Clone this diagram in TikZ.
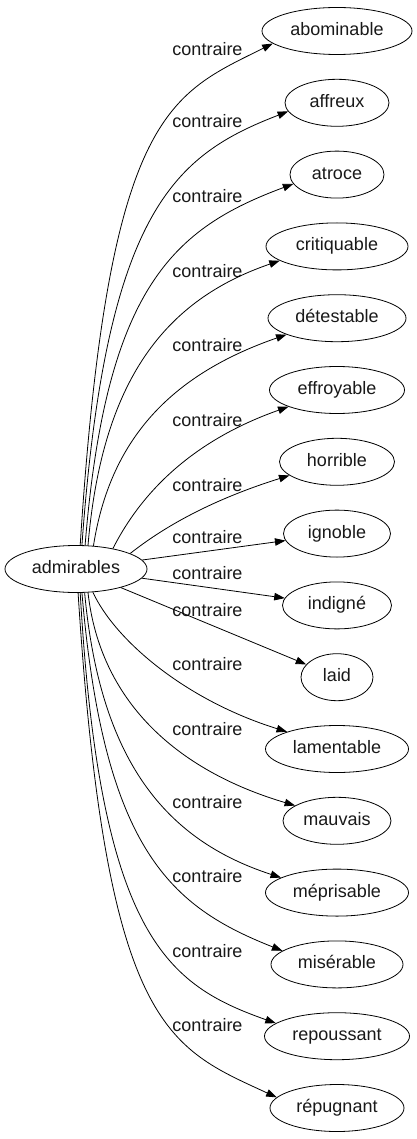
\documentclass[tikz,border=0pt]{standalone}
\usepackage{fontspec}
\setmainfont{Liberation Sans}
\usetikzlibrary{shapes.geometric,arrows.meta}
\begin{document}
\begin{tikzpicture}[x=1pt,y=-1pt,
  word/.style={draw, ellipse, line width=0.8pt, minimum height=47pt, inner sep=0pt,
    font=\fontsize{18}{20}\selectfont, text=black!90, text height=12pt, text depth=3pt},
  rel/.style={font=\fontsize{18}{20}\selectfont, text=black!90, anchor=base, inner sep=0pt},
  link/.style={line width=0.8pt, -{Triangle[length=10.5pt,width=7.5pt]}}
]
\fill[white] (0,0) rectangle (417,1139);
\useasboundingbox (0,0) rectangle (417,1139);

\node[word, minimum width=142pt] (adm) at (76,569) {admirables};

\node[word, minimum width=150pt] (n1) at (337,31) {abominable};
\node[word, minimum width=104pt] (n2) at (337,102.8) {affreux};
\node[word, minimum width=94pt] (n3) at (337,174.6) {atroce};
\node[word, minimum width=142pt] (n4) at (337,246.4) {critiquable};
\node[word, minimum width=138pt] (n5) at (337,318.2) {détestable};
\node[word, minimum width=135pt] (n6) at (337,390) {effroyable};
\node[word, minimum width=115pt] (n7) at (337,461.8) {horrible};
\node[word, minimum width=107pt] (n8) at (337,533.6) {ignoble};
\node[word, minimum width=109pt] (n9) at (337,605.4) {indigné};
\node[word, minimum width=72pt] (n10) at (337,677.2) {laid};
\node[word, minimum width=143pt] (n11) at (337,749) {lamentable};
\node[word, minimum width=108pt] (n12) at (337,820.8) {mauvais};
\node[word, minimum width=143pt] (n13) at (337,892.6) {méprisable};
\node[word, minimum width=132pt] (n14) at (337,964.4) {misérable};
\node[word, minimum width=145pt] (n15) at (337,1036.2) {repoussant};
\node[word, minimum width=134pt] (n16) at (337,1108) {répugnant};

\node[rel] (l1) at (207.5,56) {contraire};
\node[rel] (l2) at (207.5,128) {contraire};
\node[rel] (l3) at (207.5,203) {contraire};
\node[rel] (l4) at (207.5,277.5) {contraire};
\node[rel] (l5) at (207.5,351.5) {contraire};
\node[rel] (l6) at (207.5,426) {contraire};
\node[rel] (l7) at (207.5,491.5) {contraire};
\node[rel] (l8) at (207.5,543) {contraire};
\node[rel] (l9) at (207.5,579) {contraire};
\node[rel] (l10) at (207.5,616.5) {contraire};
\node[rel] (l11) at (207.5,670) {contraire};
\node[rel] (l12) at (207.5,735) {contraire};
\node[rel] (l13) at (207.5,808) {contraire};
\node[rel] (l14) at (207.5,882.5) {contraire};
\node[rel] (l15) at (207.5,957) {contraire};
\node[rel] (l16) at (207.5,1031.5) {contraire};

\draw[link] (adm.80) .. controls (108,110) and (170,95) .. (n1.191);
\draw[link] (adm.76) .. controls (106,210) and (175,155) .. (n2.190);
\draw[link] (adm.69) .. controls (106,285) and (175,228) .. (n3.192);
\draw[link] (adm.63) .. controls (102,380) and (165,300) .. (n4.194);
\draw[link] (adm.53) .. controls (110,440) and (170,375) .. (n5.198);
\draw[link] (adm.29) .. controls (135,505) and (180,445) .. (n6.199);
\draw[link] (adm.16) .. controls (150,538) and (195,505) .. (n7.196);
\draw[link] (adm) -- (n8);
\draw[link] (adm) -- (n9);
\draw[link] (adm) -- (n10);
\draw[link] (adm.306) .. controls (115,640) and (185,700) .. (n11.161);
\draw[link] (adm.297) .. controls (100,700) and (175,770) .. (n12.160);
\draw[link] (adm.290) .. controls (100,760) and (165,840) .. (n13.165);
\draw[link] (adm.284) .. controls (104,852) and (172,907) .. (n14.166);
\draw[link] (adm.280) .. controls (100,938) and (168,985) .. (n15.168);
\draw[link] (adm.275) .. controls (106,1030) and (168,1047) .. (n16.170);
\end{tikzpicture}
\end{document}
